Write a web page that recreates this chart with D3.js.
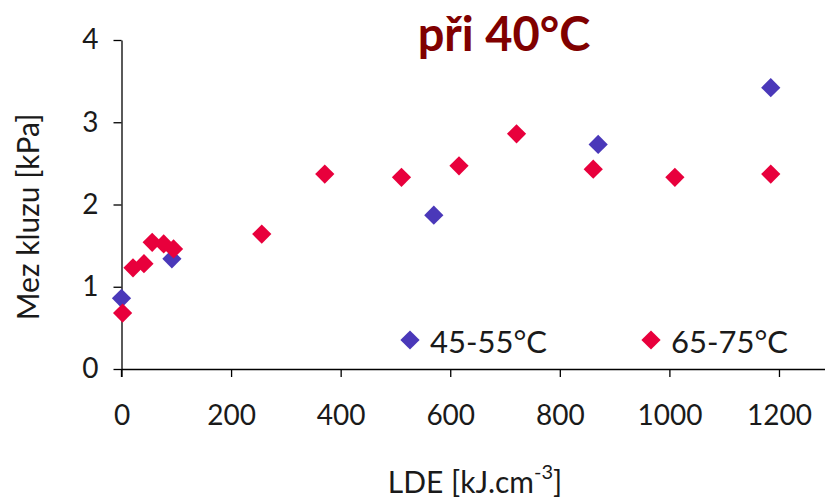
<!DOCTYPE html>
<html>
<head>
<meta charset="utf-8">
<script src="https://cdn.jsdelivr.net/npm/d3@7"></script>
<style>
  body { margin: 0; background: #fff; }
  svg text { font-family: Lato, "Open Sans", sans-serif; fill: #1a1a1a; }
  .axis path, .axis line { stroke: #000; stroke-width: 1.3; }
  .axis text { font-size: 28px; }
</style>
</head>
<body>
<div id="chart"></div>
<script>
// values: LDE [kJ.cm-3] vs Mez kluzu [kPa]
const lde4555 = [0, 92, 570, 870, 1185];
const mez4555 = [0.86, 1.34, 1.87, 2.73, 3.42];

const lde6575 = [2, 21, 41, 56, 77, 95, 256, 371, 511, 616, 721, 861, 1010, 1185];
const mez6575 = [0.68, 1.23, 1.28, 1.54, 1.52, 1.46, 1.64, 2.37, 2.33, 2.47, 2.86, 2.43, 2.33, 2.37];

const xTicks = [0, 200, 400, 600, 800, 1000, 1200];
const yTicks = [0, 1, 2, 3, 4];
const seriesNames = ["45-55°C", "65-75°C"];
const colors = ["#4a38b9", "#e8003c"];

const width = 825, height = 498;

const svg = d3.select("#chart").append("svg")
    .attr("width", width)
    .attr("height", height);

// x axis line runs on to the right edge past 1200
const x = d3.scaleLinear().domain([0, 1284]).range([121.5, 825]);
const y = d3.scaleLinear().domain([0, 4]).range([369, 40]);

svg.append("g")
    .attr("class", "axis")
    .attr("transform", `translate(0,${y(0)})`)
    .call(d3.axisBottom(x).tickValues(xTicks).tickSize(8).tickSizeOuter(0).tickPadding(28).tickFormat(d3.format("d")))
    .call(g => g.selectAll("text").attr("fill", "#1a1a1a"));

svg.append("g")
    .attr("class", "axis")
    .attr("transform", `translate(${x(0)},0)`)
    .call(d3.axisLeft(y).tickValues(yTicks).tickSize(8).tickSizeOuter(0).tickPadding(15).tickFormat(d3.format("d")))
    .call(g => g.selectAll("text").attr("fill", "#1a1a1a"));

// the y axis line also drops below the x axis like the 0 tick
svg.append("line")
    .attr("x1", x(0)).attr("x2", x(0))
    .attr("y1", y(0)).attr("y2", y(0) + 8)
    .attr("stroke", "#000").attr("stroke-width", 1.3);

const diamond = d3.symbol().type(d3.symbolSquare).size(185);

function drawSeries(xs, ys, color) {
  svg.append("g").selectAll("path")
    .data(xs.map((v, i) => [v, ys[i]]))
    .join("path")
      .attr("d", diamond)
      .attr("transform", d => `translate(${x(d[0])},${y(d[1])}) rotate(45)`)
      .attr("fill", color);
}

drawSeries(lde4555, mez4555, colors[0]);
drawSeries(lde6575, mez6575, colors[1]);

// legend inside the plot, bottom right
const legendX = [410, 651];
seriesNames.forEach((name, i) => {
  svg.append("path")
    .attr("d", diamond)
    .attr("transform", `translate(${legendX[i]},340) rotate(45)`)
    .attr("fill", colors[i]);
  svg.append("text")
    .attr("x", legendX[i] + 20)
    .attr("y", 353)
    .attr("font-size", 31)
    .text(name);
});

// title
svg.append("text")
    .attr("x", 504)
    .attr("y", 51)
    .attr("text-anchor", "middle")
    .attr("font-size", 47)
    .attr("font-weight", "bold")
    .style("fill", "#800000")
    .text("při 40°C");

// axis titles
svg.append("text")
    .attr("transform", "translate(39,217) rotate(-90)")
    .attr("text-anchor", "middle")
    .attr("font-size", 30)
    .text("Mez kluzu [kPa]");

const xLabel = svg.append("text")
    .attr("x", 475)
    .attr("y", 493)
    .attr("text-anchor", "middle")
    .attr("font-size", 30);
xLabel.append("tspan").text("LDE [kJ.cm");
xLabel.append("tspan").attr("font-size", 20).attr("dy", -14).text("-3");
xLabel.append("tspan").attr("dy", 14).text("]");
</script>
</body>
</html>
